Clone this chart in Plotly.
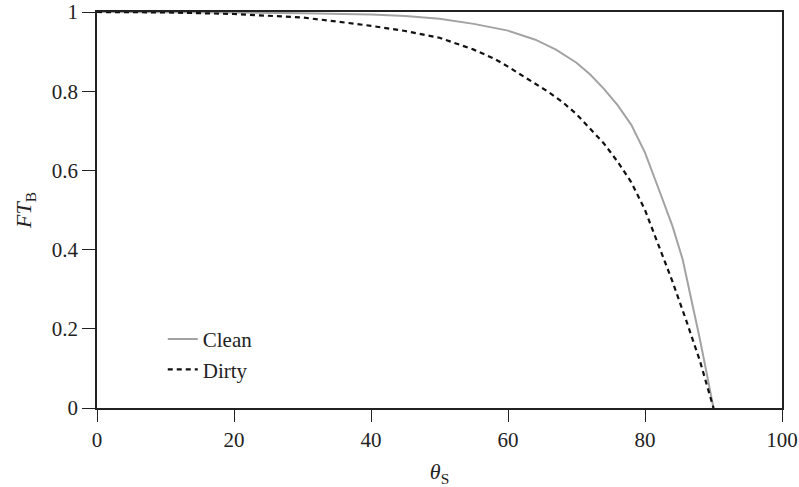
import plotly.graph_objects as go

clean_x = [0, 10, 20, 30, 40, 45, 50, 55, 60, 64, 67, 70, 72, 74, 76, 78, 80, 82, 84, 85.5, 87, 88, 89, 90]
clean_y = [1.0, 1.0, 0.999, 0.997, 0.994, 0.99, 0.983, 0.97, 0.953, 0.93, 0.905, 0.872, 0.842, 0.806, 0.765, 0.715, 0.645, 0.553, 0.46, 0.375, 0.26, 0.175, 0.088, 0.0]

dirty_x = [0, 10, 20, 25, 30, 35, 40, 45, 50, 55, 58, 60, 63, 66, 68, 70, 72, 74, 76, 78, 80, 82, 84, 86, 88, 89, 90]
dirty_y = [1.0, 0.999, 0.995, 0.991, 0.986, 0.976, 0.965, 0.952, 0.935, 0.905, 0.882, 0.862, 0.83, 0.797, 0.772, 0.742, 0.705, 0.668, 0.622, 0.57, 0.5, 0.41, 0.32, 0.222, 0.12, 0.06, 0.0]

x_ticks = [0, 20, 40, 60, 80, 100]
y_ticks = [0, 0.2, 0.4, 0.6, 0.8, 1]
y_ticktext = ["0", "0.2", "0.4", "0.6", "0.8", "1"]

font = "Liberation Serif, Times New Roman, serif"

fig = go.Figure()
fig.add_trace(go.Scatter(x=clean_x, y=clean_y, mode="lines", name="Clean", legendgroup="a",
                         line=dict(color="#a3a3a3", width=2)))
fig.add_trace(go.Scatter(x=dirty_x, y=dirty_y, mode="lines", name="Dirty", legendgroup="b",
                         line=dict(color="#111111", width=2.2, dash="5px,4px")))

fig.update_layout(
    width=799, height=487,
    margin=dict(l=97, r=17, t=12, b=79),
    paper_bgcolor="white", plot_bgcolor="white",
    font=dict(family=font, size=21, color="#222"),
    showlegend=True,
    legend=dict(x=0.096, y=0.225, xanchor="left", yanchor="top",
                bgcolor="rgba(0,0,0,0)", font=dict(size=21, family=font),
                tracegroupgap=0),
)
fig.update_xaxes(range=[0, 100], tickvals=x_ticks, ticks="outside", ticklen=12,
                 tickcolor="#222", showline=True, linecolor="#222", linewidth=1.5,
                 mirror=True, showgrid=False, zeroline=False, automargin=False,
                 title=dict(text="<i>θ</i><sub>S</sub>", font=dict(size=22, family=font), standoff=14))
fig.update_yaxes(range=[0, 1], tickvals=y_ticks, ticktext=y_ticktext, ticks="outside", ticklen=13,
                 tickcolor="#222", showline=True, linecolor="#222", linewidth=1.5,
                 mirror=True, showgrid=False, zeroline=False, automargin=False,
                 title=dict(text="<i>FT</i><sub>B</sub>", font=dict(size=22, family=font), standoff=14))

fig.write_html("out.html")
